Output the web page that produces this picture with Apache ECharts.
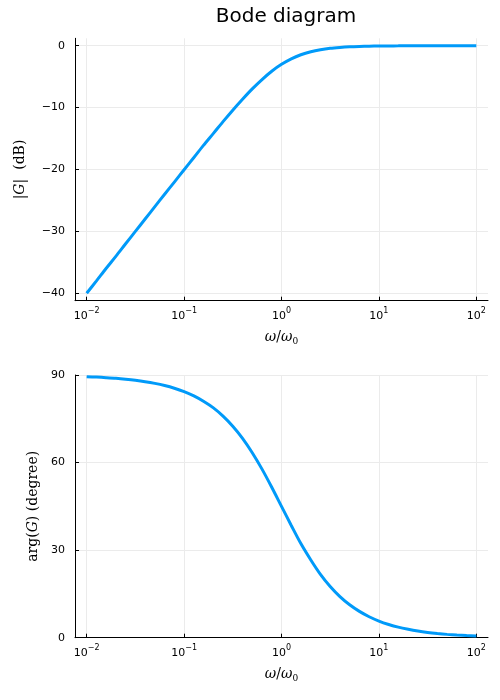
<!DOCTYPE html>
<html>
<head>
<meta charset="utf-8">
<script src="https://cdn.jsdelivr.net/npm/echarts@6/dist/echarts.min.js"></script>
<style>
  html, body { margin: 0; padding: 0; background: #fff; }
  #chart { width: 500px; height: 700px; }
</style>
</head>
<body>
<div id="chart"></div>
<script>
// normalized frequency w/w0 (log spaced, 10 points per decade)
const omega = [0.01, 0.0126, 0.0158, 0.02, 0.0251, 0.0316, 0.0398, 0.0501, 0.0631, 0.0794,
  0.1, 0.126, 0.158, 0.2, 0.251, 0.316, 0.398, 0.501, 0.631, 0.794,
  1, 1.26, 1.58, 2, 2.51, 3.16, 3.98, 5.01, 6.31, 7.94,
  10, 12.6, 15.8, 20, 25.1, 31.6, 39.8, 50.1, 63.1, 79.4, 100];
// |G| in dB
const gainDb = [-40.0, -38.0, -36.0, -34.0, -32.0, -30.0, -28.0, -26.0, -24.0, -22.03,
  -20.04, -18.07, -16.11, -14.17, -12.27, -10.41, -8.64, -6.97, -5.46, -4.12,
  -3.01, -2.12, -1.46, -0.97, -0.64, -0.41, -0.27, -0.17, -0.11, -0.07,
  -0.04, -0.03, -0.02, -0.01, -0.01, 0, 0, 0, 0, 0, 0];
// arg(G) in degree
const phaseDeg = [89.43, 89.28, 89.09, 88.86, 88.56, 88.19, 87.72, 87.13, 86.39, 85.46,
  84.29, 82.82, 80.99, 78.72, 75.9, 72.45, 68.3, 63.38, 57.75, 51.54,
  45.0, 38.46, 32.25, 26.62, 21.7, 17.55, 14.1, 11.28, 9.01, 7.18,
  5.71, 4.54, 3.61, 2.87, 2.28, 1.81, 1.44, 1.14, 0.91, 0.72, 0.57];

const xTicks = [0.01, 0.1, 1, 10, 100];
const gainTicks = [-40, -30, -20, -10, 0];

const chart = echarts.init(document.getElementById("chart"));

const lineColor = "#009af9";
const gridColor = "#ebebeb";
const font = "DejaVu Sans";
const serif = "DejaVu Serif";

const mathRich = {
  i: { fontFamily: serif, fontStyle: "italic", fontSize: 14, color: "#000" },
  r: { fontFamily: serif, fontSize: 14, color: "#000" },
  s: { fontFamily: serif, fontSize: 9, color: "#000", verticalAlign: "bottom", padding: [8, 0, 0, 0] },
};

const xAxisBase = (gridIndex) => ({
  type: "log",
  gridIndex,
  min: Math.pow(10, -2.12),
  max: Math.pow(10, 2.12),
  name: "{i|ω}{r|/}{i|ω}{s|0}",
  nameLocation: "middle",
  nameGap: 28,
  nameTextStyle: { rich: mathRich },
  axisLine: { show: true, onZero: false, lineStyle: { color: "#000", width: 1 } },
  axisTick: { show: true, inside: true, length: 4, customValues: xTicks, lineStyle: { color: "#000" } },
  axisLabel: {
    customValues: xTicks,
    margin: 6,
    formatter: (v) => {
      const e = Math.round(Math.log10(v));
      return "{b|10}{p|" + String(e).replace("-", "−") + "}";
    },
    rich: {
      b: { fontFamily: font, fontSize: 11, color: "#000", padding: [4, 0, 0, 0] },
      p: { fontFamily: font, fontSize: 8, color: "#000", verticalAlign: "top", padding: [0, 0, 6, 0] },
    },
  },
  splitLine: { show: true, lineStyle: { color: gridColor, width: 1 } },
  minorTick: { show: false },
});

const yLabel = {
  fontFamily: font,
  fontSize: 11,
  color: "#000",
  margin: 10,
  formatter: (v) => String(v).replace("-", "−"),
};

chart.setOption({
  animation: false,
  backgroundColor: "#fff",
  title: {
    text: "Bode diagram",
    left: 281,
    textAlign: "center",
    top: 2,
    textStyle: { fontFamily: font, fontSize: 20, fontWeight: "normal", color: "#000" },
  },
  grid: [
    { left: 75, top: 38.3, width: 413, height: 262.4 },
    { left: 75, top: 375, width: 413, height: 262.7 },
  ],
  xAxis: [xAxisBase(0), xAxisBase(1)],
  yAxis: [
    {
      type: "value",
      gridIndex: 0,
      min: -41.2,
      max: 1.2,
      name: "{r||}{i|G}{r||  (dB)}",
      nameLocation: "middle",
      nameGap: 48,
      nameTextStyle: { rich: mathRich },
      axisLine: { show: true, onZero: false, lineStyle: { color: "#000", width: 1 } },
      axisTick: { show: true, inside: true, length: 4, customValues: gainTicks, lineStyle: { color: "#000" } },
      axisLabel: Object.assign({ customValues: gainTicks }, yLabel),
      splitLine: { show: true, lineStyle: { color: gridColor, width: 1 } },
    },
    {
      type: "value",
      gridIndex: 1,
      min: 0,
      max: 90,
      interval: 30,
      name: "{r|arg(}{i|G}{r|) (degree)}",
      nameLocation: "middle",
      nameGap: 35,
      nameTextStyle: { rich: mathRich },
      axisLine: { show: true, onZero: false, lineStyle: { color: "#000", width: 1 } },
      axisTick: { show: true, inside: true, length: 4, lineStyle: { color: "#000" } },
      axisLabel: yLabel,
      splitLine: { show: true, lineStyle: { color: gridColor, width: 1 } },
    },
  ],
  series: [
    {
      type: "line",
      xAxisIndex: 0,
      yAxisIndex: 0,
      data: omega.map((w, i) => [w, gainDb[i]]),
      smooth: 0.3,
      showSymbol: false,
      lineStyle: { color: lineColor, width: 3 },
    },
    {
      type: "line",
      xAxisIndex: 1,
      yAxisIndex: 1,
      data: omega.map((w, i) => [w, phaseDeg[i]]),
      smooth: 0.3,
      showSymbol: false,
      lineStyle: { color: lineColor, width: 3 },
    },
  ],
});
</script>
</body>
</html>
